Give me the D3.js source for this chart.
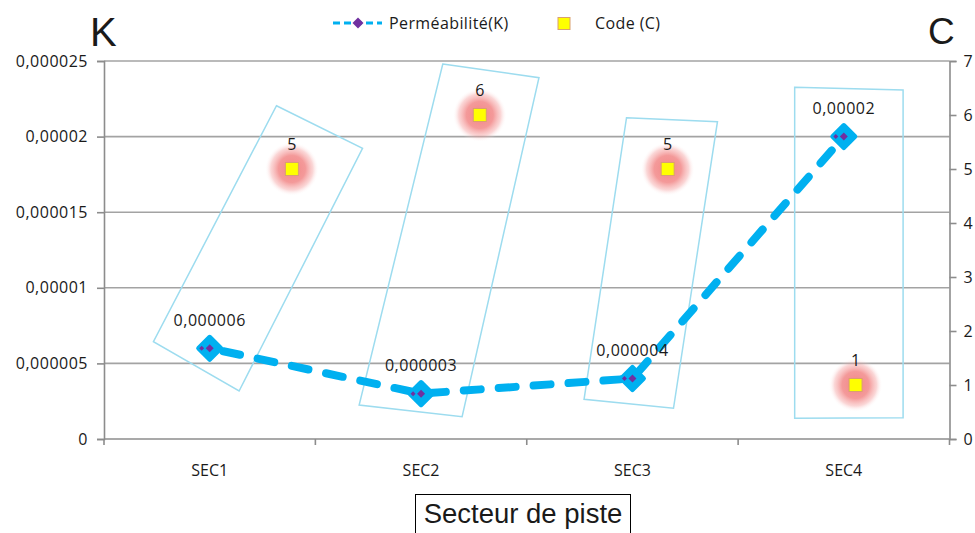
<!DOCTYPE html>
<html>
<head>
<meta charset="utf-8">
<script src="https://cdn.jsdelivr.net/npm/d3@7"></script>
<style>
  html, body { margin: 0; padding: 0; background: #fff; }
  svg { display: block; }
  text { font-family: "Open Sans", "DejaVu Sans", sans-serif; fill: #1a1a1a; }
</style>
</head>
<body>
<svg id="chart" width="975" height="533"></svg>
<script>
// ---------- data ----------
const categories = ["SEC1", "SEC2", "SEC3", "SEC4"];
const permeability = [0.000006, 0.000003, 0.000004, 0.00002];
const permLabels = ["0,000006", "0,000003", "0,000004", "0,00002"];
const codeX = [1, 2, 3, 4];
const codeValues = [5, 6, 5, 1];
const leftTicks = [0, 0.000005, 0.00001, 0.000015, 0.00002, 0.000025];
const leftTickLabels = ["0", "0,000005", "0,00001", "0,000015", "0,00002", "0,000025"];
const rightTicks = [0, 1, 2, 3, 4, 5, 6, 7];
const rightTickLabels = ["0", "1", "2", "3", "4", "5", "6", "7"];
const legendLabels = ["Perméabilité(K)", "Code (C)"];
const axisTitleX = "Secteur de piste";
const axisTitleLeft = "K";
const axisTitleRight = "C";
// hand-drawn annotation frames, corners in (secondary x, C) data units
const frames = [
  [[0.918, 6.172], [1.376, 5.383], [0.719, 0.889], [0.263, 1.802]],
  [[1.803, 6.944], [2.315, 6.691], [1.906, 0.413], [1.358, 0.630]],
  [[2.781, 5.950], [3.265, 5.876], [3.031, 0.569], [2.555, 0.735]],
  [[3.676, 6.513], [4.253, 6.463], [4.253, 0.394], [3.676, 0.383]]
];

// ---------- layout ----------
const L = 104, R = 949.5, T = 61, B = 439;
const svg = d3.select("#chart");

const x = d3.scaleBand().domain(categories).range([L, R]).paddingInner(0).paddingOuter(0);
const xs = d3.scaleLinear().domain([0, 4.5]).range([L, R]);
const yK = d3.scaleLinear().domain([0, 0.000025]).range([B, T]);
const yC = d3.scaleLinear().domain([0, 7]).range([B, T]);

const gridColor = "#a3a3a3";
const axisColor = "#8c8c8c";

// defs: glow gradient
const defs = svg.append("defs");
const rg = defs.append("radialGradient").attr("id", "glow");
rg.append("stop").attr("offset", "0%").attr("stop-color", "#f07070").attr("stop-opacity", 0.85);
rg.append("stop").attr("offset", "50%").attr("stop-color", "#f07878").attr("stop-opacity", 0.75);
rg.append("stop").attr("offset", "78%").attr("stop-color", "#f49a9a").attr("stop-opacity", 0.4);
rg.append("stop").attr("offset", "100%").attr("stop-color", "#ffffff").attr("stop-opacity", 0);

// gridlines
svg.append("g").selectAll("line").data(leftTicks.slice(1)).join("line")
  .attr("x1", L).attr("x2", R)
  .attr("y1", d => yK(d)).attr("y2", d => yK(d))
  .attr("stroke", gridColor).attr("stroke-width", 1.6);

// left axis
const leftAxis = d3.axisLeft(yK).tickValues(leftTicks)
  .tickFormat((d, i) => leftTickLabels[i]).tickSize(7).tickPadding(9);
const gl = svg.append("g").attr("transform", `translate(${L},0)`).call(leftAxis);
gl.select(".domain").attr("stroke", axisColor).attr("stroke-width", 1.6);
gl.selectAll(".tick line").attr("stroke", axisColor).attr("stroke-width", 1.6);
gl.selectAll(".tick text").style("font-family", "Open Sans").style("font-size", "16px")
  .style("letter-spacing", "0.5px").attr("fill", "#1a1a1a");

// right axis
const rightAxis = d3.axisRight(yC).tickValues(rightTicks)
  .tickFormat((d, i) => rightTickLabels[i]).tickSize(7).tickPadding(7);
const gr = svg.append("g").attr("transform", `translate(${R},0)`).call(rightAxis);
gr.select(".domain").attr("stroke", axisColor).attr("stroke-width", 1.6);
gr.selectAll(".tick line").attr("stroke", axisColor).attr("stroke-width", 1.6);
gr.selectAll(".tick text").style("font-family", "Open Sans").style("font-size", "16px").attr("fill", "#1a1a1a");

// bottom axis (ticks at category boundaries)
const gb = svg.append("g").attr("transform", `translate(0,${B})`);
gb.append("line").attr("x1", L).attr("x2", R).attr("y1", 0).attr("y2", 0)
  .attr("stroke", axisColor).attr("stroke-width", 1.6);
const bounds = categories.map(c => x(c)).concat([x(categories[categories.length - 1]) + x.bandwidth()]);
gb.selectAll("line.tk").data(bounds).join("line").attr("class", "tk")
  .attr("x1", d => d).attr("x2", d => d).attr("y1", 0).attr("y2", 6)
  .attr("stroke", axisColor).attr("stroke-width", 1.6);
gb.selectAll("text").data(categories).join("text")
  .attr("x", d => x(d) + x.bandwidth() / 2).attr("y", 31)
  .attr("dy", "0.35em").attr("text-anchor", "middle")
  .style("font-size", "16px").text(d => d);

// annotation frames
const lineGen = d3.line().x(d => xs(d[0])).y(d => yC(d[1])).curve(d3.curveLinearClosed);
svg.append("g").selectAll("path").data(frames).join("path")
  .attr("d", d => lineGen(d))
  .attr("fill", "none").attr("stroke", "#9ddcef").attr("stroke-width", 1.5);

// permeability dashed line
const kLine = d3.line().x((d, i) => x(categories[i]) + x.bandwidth() / 2).y(d => yK(d));
svg.append("path").datum(permeability).attr("d", kLine)
  .attr("fill", "none").attr("stroke", "#00b0f0").attr("stroke-width", 8)
  .attr("stroke-linecap", "round").attr("stroke-dasharray", "17 18").attr("stroke-dashoffset", -14);

// K markers
const diamond = (cx, cy, r) => `M${cx},${cy - r}L${cx + r},${cy}L${cx},${cy + r}L${cx - r},${cy}Z`;
const km = svg.append("g").selectAll("g").data(permeability).join("g");
km.append("path")
  .attr("d", (d, i) => diamond(x(categories[i]) + x.bandwidth() / 2, yK(d), 11))
  .attr("fill", "#00b0f0").attr("stroke", "#00b0f0").attr("stroke-width", 5).attr("stroke-linejoin", "round");
km.append("path")
  .attr("d", (d, i) => diamond(x(categories[i]) + x.bandwidth() / 2, yK(d), 4))
  .attr("fill", "#7030a0");
km.append("path")
  .attr("d", (d, i) => diamond(x(categories[i]) + x.bandwidth() / 2 - 8, yK(d), 2.5))
  .attr("fill", "#7030a0");
km.append("text")
  .attr("x", (d, i) => x(categories[i]) + x.bandwidth() / 2)
  .attr("y", d => yK(d) - 28).attr("dy", "0.35em").attr("text-anchor", "middle")
  .style("font-size", "16px").style("letter-spacing", "0.5px")
  .text((d, i) => permLabels[i]);

// Code markers with glow
const cm = svg.append("g").selectAll("g").data(codeValues).join("g");
cm.append("circle").attr("cx", (d, i) => xs(codeX[i])).attr("cy", d => yC(d)).attr("r", 27)
  .attr("fill", "url(#glow)");
cm.append("rect").attr("x", (d, i) => xs(codeX[i]) - 6.5).attr("y", d => yC(d) - 6.5)
  .attr("width", 13).attr("height", 13)
  .attr("fill", "#ffff00").attr("stroke", "#d9a070").attr("stroke-width", 1);
cm.append("text").attr("x", (d, i) => xs(codeX[i])).attr("y", d => yC(d) - 25)
  .attr("dy", "0.35em").attr("text-anchor", "middle").style("font-size", "16px")
  .text(d => d);

// legend
const lg = svg.append("g");
lg.append("line").attr("x1", 333).attr("x2", 382).attr("y1", 23).attr("y2", 23)
  .attr("stroke", "#00b0f0").attr("stroke-width", 3).attr("stroke-dasharray", "7 4");
lg.append("path").attr("d", diamond(358, 23, 5.5)).attr("fill", "#7030a0");
lg.append("text").attr("x", 389).attr("y", 23).attr("dy", "0.35em")
  .style("font-size", "16px").style("letter-spacing", "0.4px").text(legendLabels[0]);
lg.append("rect").attr("x", 558).attr("y", 17.5).attr("width", 12).attr("height", 12)
  .attr("fill", "#ffff00").attr("stroke", "#d9a070").attr("stroke-width", 1);
lg.append("text").attr("x", 595).attr("y", 23).attr("dy", "0.35em")
  .style("font-size", "16px").style("letter-spacing", "0.4px").text(legendLabels[1]);

// axis titles
svg.append("text").attr("x", 90).attr("y", 46).style("font-family", "Liberation Sans, Arial, sans-serif")
  .style("font-size", "40px").attr("fill", "#000").text(axisTitleLeft);
svg.append("text").attr("x", 928).attr("y", 44).style("font-family", "Liberation Sans, Arial, sans-serif")
  .style("font-size", "37px").attr("fill", "#000").text(axisTitleRight);

// x-axis title in a box
svg.append("rect").attr("x", 415.5).attr("y", 494.5).attr("width", 215).attr("height", 45)
  .attr("fill", "#fff").attr("stroke", "#000").attr("stroke-width", 1);
svg.append("text").attr("x", 523).attr("y", 523).attr("text-anchor", "middle")
  .style("font-family", "Liberation Sans, Arial, sans-serif").style("font-size", "27.5px")
  .attr("fill", "#000").text(axisTitleX);
</script>
</body>
</html>
